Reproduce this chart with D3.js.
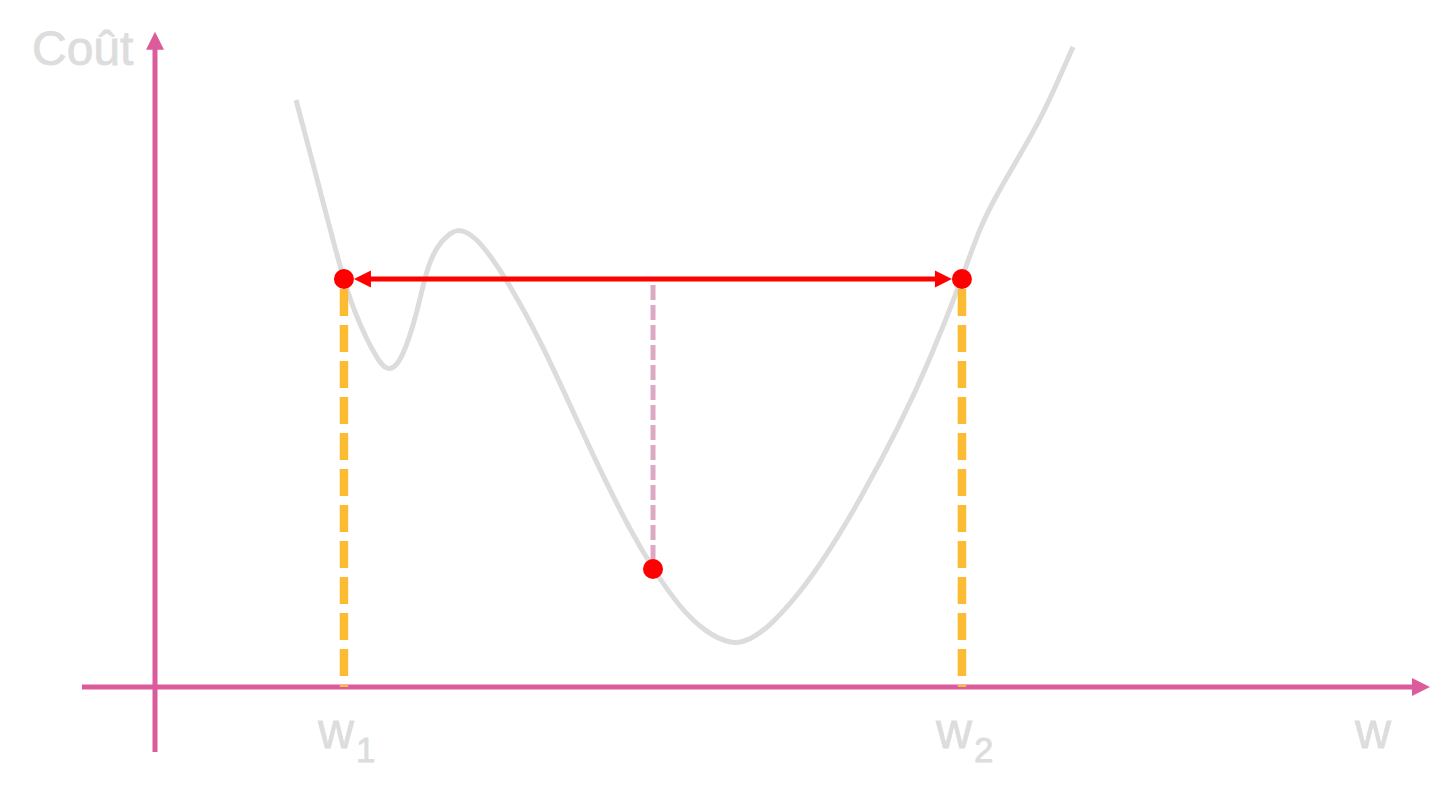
<!DOCTYPE html>
<html>
<head>
<meta charset="utf-8">
<script src="https://cdn.jsdelivr.net/npm/d3@7"></script>
<style>
  html, body { margin: 0; padding: 0; background: #ffffff; }
  svg { display: block; }
</style>
</head>
<body>
<svg id="chart" width="1450" height="789"></svg>
<script>
// ---- data (in chart units: w on x, cost on y) ----
const curveW    = [1.106, 1.294, 1.475, 1.569, 1.663, 1.741, 1.804, 1.875, 1.953, 2.055, 2.110, 2.180, 2.290, 2.392, 2.510, 2.627, 2.784, 3.020, 3.255, 3.490, 3.725, 3.906, 4.118, 4.314, 4.525, 4.667, 4.824, 5.059, 5.294, 5.529, 5.843, 6.078, 6.329, 6.471, 6.627, 6.784, 6.941, 7.075, 7.200];
const curveCost = [9.003, 7.623, 6.258, 5.736, 5.322, 5.046, 4.877, 4.877, 5.107, 5.736, 6.242, 6.672, 6.933, 7.040, 6.902, 6.626, 6.166, 5.322, 4.325, 3.328, 2.408, 1.810, 1.212, 0.844, 0.644, 0.721, 0.936, 1.442, 2.101, 2.868, 4.018, 5.015, 6.258, 7.071, 7.638, 8.160, 8.696, 9.264, 9.816];
const boundW    = [1.482, 6.329];   // w1, w2
const boundCost = 6.258;
const midW      = 3.906;
const midCost   = 1.81;
const tickSubs  = ["1", "2"];
const yTitle    = "Coût";
const xTitle    = "w";
const xExtent   = [-0.573, 10];
const yExtent   = [-0.997, 10.05];

// ---- scales ----
const x = d3.scaleLinear().domain([0, 10]).range([155, 1430]);
const y = d3.scaleLinear().domain([0, 10]).range([687, 35]);

const svg = d3.select("#chart");
const axisColor = "#DB5B9B";
const gray = "#DCDCDC";
const textColor = "#DDDDDD";
const red = "#FF0000";
const font = "'Liberation Sans', Arial, sans-serif";

// ---- cost curve ----
const pts = curveW.map((w, i) => [w, curveCost[i]]);
svg.append("path")
  .datum(pts)
  .attr("d", d3.line().x(d => x(d[0])).y(d => y(d[1])).curve(d3.curveBasis))
  .attr("fill", "none")
  .attr("stroke", gray)
  .attr("stroke-width", 5)
  .attr("stroke-linecap", "butt")
  .attr("stroke-linejoin", "round");

// ---- axes ----
const headLen = 18, headHalf = 9;
// x axis
svg.append("line")
  .attr("x1", x(xExtent[0])).attr("y1", y(0))
  .attr("x2", x(xExtent[1]) - headLen + 2).attr("y2", y(0))
  .attr("stroke", axisColor).attr("stroke-width", 5);
svg.append("path")
  .attr("d", `M${x(xExtent[1])},${y(0)} L${x(xExtent[1]) - headLen},${y(0) - headHalf} L${x(xExtent[1]) - headLen},${y(0) + headHalf} Z`)
  .attr("fill", axisColor);
// y axis
svg.append("line")
  .attr("x1", x(0)).attr("y1", y(yExtent[0]))
  .attr("x2", x(0)).attr("y2", y(yExtent[1]) + headLen - 2)
  .attr("stroke", axisColor).attr("stroke-width", 5);
svg.append("path")
  .attr("d", `M${x(0)},${y(yExtent[1])} L${x(0) - headHalf},${y(yExtent[1]) + headLen} L${x(0) + headHalf},${y(yExtent[1]) + headLen} Z`)
  .attr("fill", axisColor);

// ---- orange dashed drops ----
svg.selectAll("line.drop")
  .data(boundW)
  .enter().append("line")
  .attr("class", "drop")
  .attr("x1", d => x(d)).attr("y1", y(boundCost))
  .attr("x2", d => x(d)).attr("y2", y(0))
  .attr("stroke", "#FBBC33")
  .attr("stroke-width", 8.5)
  .attr("stroke-dasharray", "27 9")
  .attr("stroke-dashoffset", 26);

// ---- pink dashed middle drop ----
svg.append("line")
  .attr("x1", x(midW)).attr("y1", y(boundCost) + 6)
  .attr("x2", x(midW)).attr("y2", y(midCost) - 6)
  .attr("stroke", "#DBA9C4")
  .attr("stroke-width", 5)
  .attr("stroke-dasharray", "15 5");

// ---- red double arrow ----
const r = 10, aLen = 17, aHalf = 8.5;
const ay = y(boundCost);
const xl = x(boundW[0]) + r, xr = x(boundW[1]) - r;
svg.append("line")
  .attr("x1", xl + aLen - 2).attr("y1", ay)
  .attr("x2", xr - aLen + 2).attr("y2", ay)
  .attr("stroke", red).attr("stroke-width", 5);
svg.append("path")
  .attr("d", `M${xl},${ay} L${xl + aLen},${ay - aHalf} L${xl + aLen},${ay + aHalf} Z`)
  .attr("fill", red);
svg.append("path")
  .attr("d", `M${xr},${ay} L${xr - aLen},${ay - aHalf} L${xr - aLen},${ay + aHalf} Z`)
  .attr("fill", red);

// ---- red dots ----
const dots = boundW.map(w => [w, boundCost]).concat([[midW, midCost]]);
svg.selectAll("circle.dot")
  .data(dots)
  .enter().append("circle")
  .attr("class", "dot")
  .attr("cx", d => x(d[0])).attr("cy", d => y(d[1]))
  .attr("r", r)
  .attr("fill", red);

// ---- text ----
const textStroke = 0.8;
svg.append("text")
  .attr("x", 32).attr("y", 65)
  .attr("font-family", font).attr("font-size", 48)
  .attr("fill", textColor).attr("stroke", textColor).attr("stroke-width", textStroke)
  .text(yTitle);

svg.append("text")
  .attr("x", 1355).attr("y", 748)
  .attr("font-family", font).attr("font-size", 50)
  .attr("fill", textColor).attr("stroke", textColor).attr("stroke-width", textStroke)
  .text(xTitle);

boundW.forEach((w, i) => {
  const t = svg.append("text")
    .attr("x", x(w) - 26).attr("y", 748)
    .attr("font-family", font).attr("font-size", 50)
    .attr("fill", textColor).attr("stroke", textColor).attr("stroke-width", textStroke);
  t.append("tspan").text(xTitle);
  t.append("tspan").attr("font-size", 35).attr("dy", 14).attr("dx", 2).text(tickSubs[i]);
});
</script>
</body>
</html>
